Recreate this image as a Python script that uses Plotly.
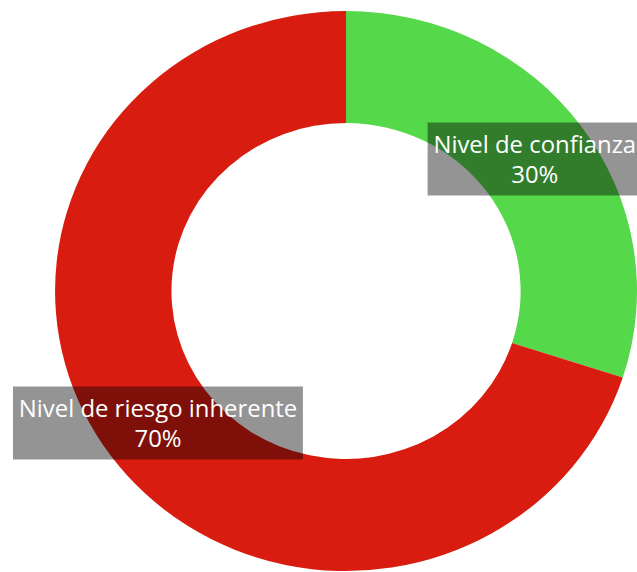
import math
import plotly.graph_objects as go

labels = ["Nivel de confianza", "Nivel de riesgo inherente"]
values = [30, 70]
colors = ["#55D84A", "#D91C10"]

# The reference rendering is slightly wider than tall (horizontal stretch),
# so the figure is drawn at 613 px wide and stretched to 637 px on the page.
PAGE_W = 637
W, H = 613, 572
SX = PAGE_W / W
cx, cy, R = 333, 291, 280   # figure-pixel center / radius of the donut
hole = 0.6

fig = go.Figure(go.Pie(
    labels=labels,
    values=values,
    marker=dict(colors=colors, line=dict(width=0)),
    hole=hole,
    sort=False,
    direction="clockwise",
    rotation=0,
    textinfo="none",
    hoverinfo="label+percent",
    domain=dict(x=[(cx - R) / W, min(1, (cx + R) / W)],
                y=[(H - cy - R) / H, (H - cy + R) / H]),
))

# data labels at each slice's centroid (like chartjs-plugin-datalabels)
total = sum(values)
cum = 0
rmid = R * (1 + hole) / 2
annotations = []
for lab, v in zip(labels, values):
    mid = (cum + v / 2) / total * 2 * math.pi
    cum += v
    px = cx + rmid * math.sin(mid)
    py = cy - rmid * math.cos(mid)
    annotations.append(dict(
        x=px / W, y=1 - py / H, xref="paper", yref="paper",
        text=f"{lab}<br>{round(v / total * 100)}%",
        showarrow=False,
        font=dict(family="Open Sans", size=23, color="white"),
        bgcolor="rgba(0,0,0,0.42)",
        borderpad=5,
        xanchor="center", yanchor="middle",
    ))

fig.update_layout(
    width=W, height=H,
    margin=dict(l=0, r=0, t=0, b=0),
    showlegend=False,
    paper_bgcolor="white",
    plot_bgcolor="white",
    annotations=annotations,
)

post = (
    "document.body.style.margin='0';"
    "document.body.style.overflow='hidden';"
    "var gd=document.getElementById('{plot_id}');"
    "gd.style.transformOrigin='0 0';"
    f"gd.style.transform='scaleX({SX:.5f})';"
)

fig.write_html("out.html", post_script=post,
               config={"displayModeBar": False})
